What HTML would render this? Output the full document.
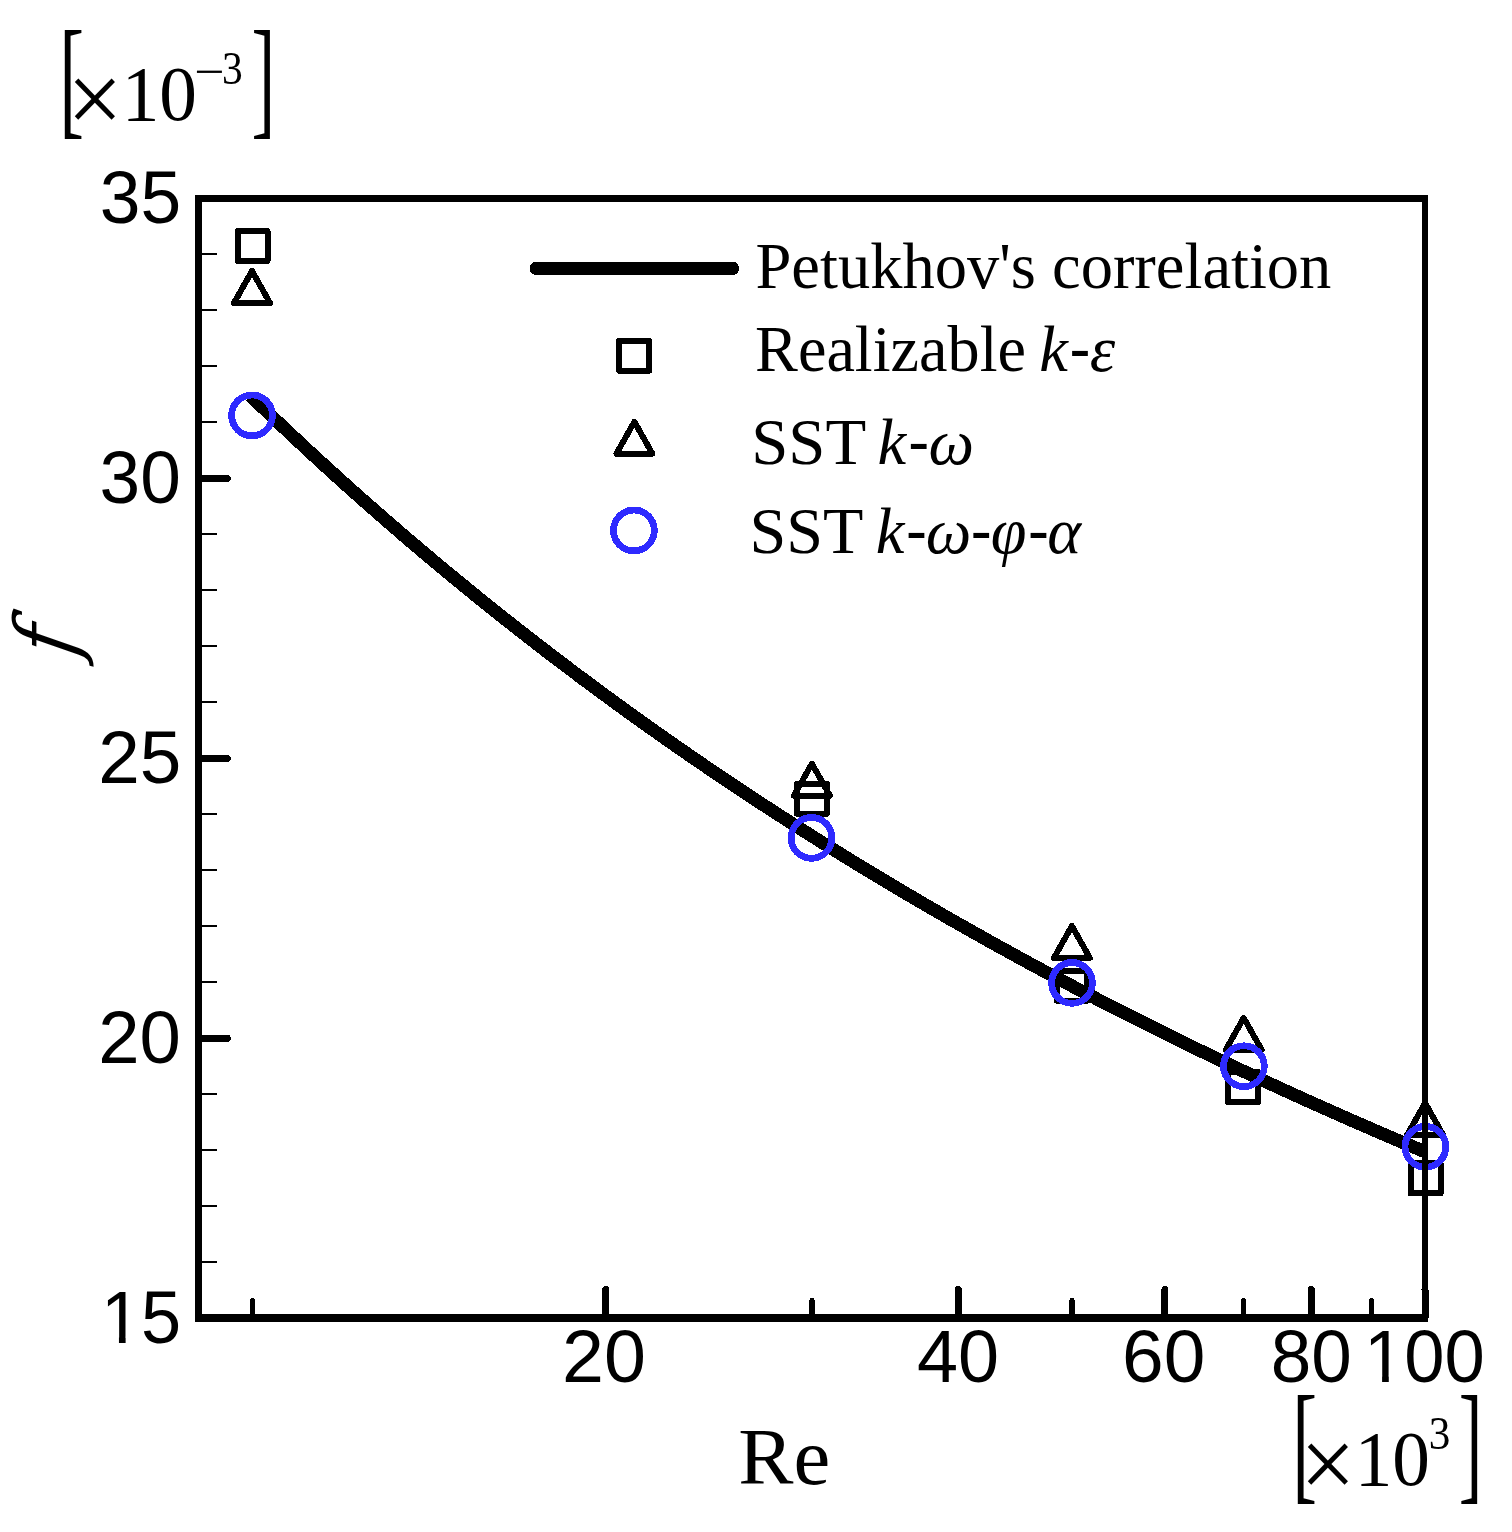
<!DOCTYPE html>
<html lang="en"><head><meta charset="utf-8"><title>Friction factor f versus Re</title>
<style>html,body{margin:0;padding:0;background:#fff}body{width:1512px;height:1532px;overflow:hidden}svg{display:block}text{fill:#000}.sans{font-family:"Liberation Sans", Arial, Helvetica, sans-serif}.serif{font-family:"Liberation Serif", "Times New Roman", Times, serif}.it{font-style:italic}</style></head><body>
<svg width="1512" height="1532" viewBox="0 0 1512 1532">
<rect width="1512" height="1532" fill="#fff"/>
<g id="plot" shape-rendering="crispEdges">
<path d="M250.61 395.88 L257.95 402.98 L265.29 410.04 L272.63 417.06 L279.97 424.03 L287.31 430.96 L294.65 437.85 L301.99 444.70 L309.33 451.51 L316.67 458.28 L324.01 465.01 L331.35 471.69 L338.69 478.34 L346.03 484.95 L353.37 491.52 L360.71 498.05 L368.05 504.55 L375.39 511.00 L382.73 517.42 L390.07 523.80 L397.41 530.14 L404.75 536.45 L412.09 542.72 L419.43 548.95 L426.77 555.15 L434.11 561.31 L441.45 567.43 L448.79 573.52 L456.13 579.58 L463.47 585.60 L470.81 591.59 L478.15 597.54 L485.49 603.46 L492.83 609.34 L500.17 615.19 L507.51 621.01 L514.85 626.80 L522.19 632.55 L529.53 638.27 L536.87 643.96 L544.21 649.62 L551.55 655.24 L558.89 660.84 L566.23 666.40 L573.57 671.93 L580.90 677.43 L588.24 682.90 L595.58 688.34 L602.92 693.75 L610.26 699.13 L617.60 704.48 L624.94 709.80 L632.28 715.10 L639.62 720.36 L646.96 725.59 L654.30 730.80 L661.64 735.98 L668.98 741.13 L676.32 746.25 L683.66 751.34 L691.00 756.41 L698.34 761.45 L705.68 766.46 L713.02 771.44 L720.36 776.40 L727.70 781.33 L735.04 786.24 L742.38 791.12 L749.72 795.97 L757.06 800.80 L764.40 805.60 L771.74 810.37 L779.08 815.13 L786.42 819.85 L793.76 824.55 L801.10 829.23 L808.44 833.88 L815.78 838.51 L823.12 843.11 L830.46 847.69 L837.80 852.24 L845.14 856.77 L852.48 861.28 L859.82 865.77 L867.16 870.23 L874.50 874.67 L881.84 879.08 L889.18 883.47 L896.52 887.84 L903.86 892.19 L911.20 896.52 L918.54 900.82 L925.88 905.10 L933.22 909.36 L940.56 913.60 L947.90 917.81 L955.24 922.01 L962.58 926.18 L969.92 930.33 L977.26 934.46 L984.60 938.57 L991.94 942.66 L999.28 946.73 L1006.62 950.78 L1013.96 954.81 L1021.30 958.82 L1028.64 962.81 L1035.98 966.78 L1043.32 970.72 L1050.66 974.65 L1058.00 978.56 L1065.34 982.45 L1072.68 986.32 L1080.02 990.18 L1087.36 994.01 L1094.70 997.82 L1102.04 1001.62 L1109.38 1005.40 L1116.72 1009.15 L1124.06 1012.89 L1131.40 1016.62 L1138.74 1020.32 L1146.08 1024.01 L1153.42 1027.67 L1160.76 1031.32 L1168.10 1034.96 L1175.44 1038.57 L1182.78 1042.17 L1190.12 1045.75 L1197.46 1049.31 L1204.80 1052.86 L1212.14 1056.39 L1219.48 1059.90 L1226.82 1063.39 L1234.16 1066.87 L1241.50 1070.33 L1248.84 1073.78 L1256.18 1077.21 L1263.52 1080.62 L1270.86 1084.02 L1278.20 1087.40 L1285.54 1090.76 L1292.88 1094.11 L1300.22 1097.44 L1307.56 1100.76 L1314.90 1104.06 L1322.24 1107.35 L1329.58 1110.62 L1336.92 1113.88 L1344.26 1117.12 L1351.60 1120.34 L1358.94 1123.55 L1366.28 1126.75 L1373.62 1129.93 L1380.96 1133.10 L1388.30 1136.25 L1395.64 1139.39 L1402.98 1142.51 L1410.32 1145.62 L1417.66 1148.71 L1425.00 1151.79" fill="none" stroke="#000" stroke-width="13" stroke-linecap="butt" stroke-linejoin="round"/>
<path d="M252.00 271.00 L270.00 302.98 L234.00 302.98 Z" fill="none" stroke="#000" stroke-width="6" stroke-linejoin="round"/>
<path d="M811.90 763.70 L829.90 795.68 L793.90 795.68 Z" fill="none" stroke="#000" stroke-width="6" stroke-linejoin="round"/>
<path d="M1071.90 926.00 L1089.90 957.98 L1053.90 957.98 Z" fill="none" stroke="#000" stroke-width="6" stroke-linejoin="round"/>
<path d="M1243.70 1017.90 L1261.70 1049.88 L1225.70 1049.88 Z" fill="none" stroke="#000" stroke-width="6" stroke-linejoin="round"/>
<path d="M1425.10 1103.00 L1443.10 1134.98 L1407.10 1134.98 Z" fill="none" stroke="#000" stroke-width="6" stroke-linejoin="round"/>
<rect x="237.50" y="231.00" width="30.00" height="30.00" fill="none" stroke="#000" stroke-width="6" stroke-linejoin="round"/>
<rect x="796.90" y="783.60" width="30.00" height="30.00" fill="none" stroke="#000" stroke-width="6" stroke-linejoin="round"/>
<rect x="1057.00" y="970.70" width="30.00" height="30.00" fill="none" stroke="#000" stroke-width="6" stroke-linejoin="round"/>
<rect x="1227.90" y="1072.10" width="30.00" height="30.00" fill="none" stroke="#000" stroke-width="6" stroke-linejoin="round"/>
<rect x="1410.60" y="1163.40" width="30.00" height="30.00" fill="none" stroke="#000" stroke-width="6" stroke-linejoin="round"/>
<circle cx="252.00" cy="415.40" r="20.4" fill="none" stroke="#2e2aff" stroke-width="6.8"/>
<circle cx="811.50" cy="837.90" r="20.4" fill="none" stroke="#2e2aff" stroke-width="6.8"/>
<circle cx="1072.00" cy="982.90" r="20.4" fill="none" stroke="#2e2aff" stroke-width="6.8"/>
<circle cx="1243.90" cy="1066.20" r="20.4" fill="none" stroke="#2e2aff" stroke-width="6.8"/>
<circle cx="1425.40" cy="1146.80" r="20.4" fill="none" stroke="#2e2aff" stroke-width="6.8"/>
<rect x="195.20" y="194.90" width="6.60" height="1126.80" fill="#000"/>
<rect x="1422.00" y="194.90" width="6.00" height="1126.80" fill="#000"/>
<rect x="195.20" y="194.90" width="1232.80" height="6.85" fill="#000"/>
<rect x="195.20" y="1314.20" width="1232.80" height="7.50" fill="#000"/>
<rect x="198.50" y="1260.92" width="18.50" height="2.20" fill="#000"/>
<rect x="198.50" y="1204.94" width="18.50" height="2.20" fill="#000"/>
<rect x="198.50" y="1148.95" width="18.50" height="2.20" fill="#000"/>
<rect x="198.50" y="1092.97" width="18.50" height="2.20" fill="#000"/>
<line x1="198.50" y1="1038.29" x2="227.20" y2="1038.29" stroke="#000" stroke-width="7" stroke-linecap="round"/>
<rect x="198.50" y="981.01" width="18.50" height="2.20" fill="#000"/>
<rect x="198.50" y="925.02" width="18.50" height="2.20" fill="#000"/>
<rect x="198.50" y="869.04" width="18.50" height="2.20" fill="#000"/>
<rect x="198.50" y="813.06" width="18.50" height="2.20" fill="#000"/>
<line x1="198.50" y1="758.38" x2="227.20" y2="758.38" stroke="#000" stroke-width="7" stroke-linecap="round"/>
<rect x="198.50" y="701.09" width="18.50" height="2.20" fill="#000"/>
<rect x="198.50" y="645.11" width="18.50" height="2.20" fill="#000"/>
<rect x="198.50" y="589.13" width="18.50" height="2.20" fill="#000"/>
<rect x="198.50" y="533.14" width="18.50" height="2.20" fill="#000"/>
<line x1="198.50" y1="478.46" x2="227.20" y2="478.46" stroke="#000" stroke-width="7" stroke-linecap="round"/>
<rect x="198.50" y="421.18" width="18.50" height="2.20" fill="#000"/>
<rect x="198.50" y="365.20" width="18.50" height="2.20" fill="#000"/>
<rect x="198.50" y="309.21" width="18.50" height="2.20" fill="#000"/>
<rect x="198.50" y="253.23" width="18.50" height="2.20" fill="#000"/>
<line x1="605.53" y1="1318.00" x2="605.53" y2="1289.50" stroke="#000" stroke-width="7" stroke-linecap="round"/>
<line x1="958.46" y1="1318.00" x2="958.46" y2="1289.50" stroke="#000" stroke-width="7" stroke-linecap="round"/>
<line x1="1164.90" y1="1318.00" x2="1164.90" y2="1289.50" stroke="#000" stroke-width="7" stroke-linecap="round"/>
<line x1="1311.38" y1="1318.00" x2="1311.38" y2="1289.50" stroke="#000" stroke-width="7" stroke-linecap="round"/>
<line x1="1425.00" y1="1318.00" x2="1425.00" y2="1289.50" stroke="#000" stroke-width="7" stroke-linecap="round"/>
<line x1="252.60" y1="1318.00" x2="252.60" y2="1300.60" stroke="#000" stroke-width="5.2" stroke-linecap="round"/>
<line x1="811.98" y1="1318.00" x2="811.98" y2="1300.60" stroke="#000" stroke-width="5.2" stroke-linecap="round"/>
<line x1="1072.07" y1="1318.00" x2="1072.07" y2="1300.60" stroke="#000" stroke-width="5.2" stroke-linecap="round"/>
<line x1="1243.39" y1="1318.00" x2="1243.39" y2="1300.60" stroke="#000" stroke-width="5.2" stroke-linecap="round"/>
<line x1="1371.35" y1="1318.00" x2="1371.35" y2="1300.60" stroke="#000" stroke-width="5.2" stroke-linecap="round"/>
<line x1="536.2" y1="268.4" x2="732.6" y2="268.4" stroke="#000" stroke-width="13.25" stroke-linecap="round"/>
<rect x="619.10" y="340.60" width="30.00" height="30.00" fill="none" stroke="#000" stroke-width="6" stroke-linejoin="round"/>
<path d="M634.40 421.75 L652.40 453.73 L616.40 453.73 Z" fill="none" stroke="#000" stroke-width="6" stroke-linejoin="round"/>
<circle cx="633.95" cy="530.45" r="20.4" fill="none" stroke="#2e2aff" stroke-width="6.8"/>
</g>
<text class="sans" transform="translate(99.77,223.00) scale(0.9798,1.0000)" font-size="74.71">35</text>
<text class="sans" transform="translate(99.58,503.00) scale(0.9776,1.0000)" font-size="74.71">30</text>
<text class="sans" x="98.16" y="783.00" font-size="74.71">25</text>
<text class="sans" transform="translate(98.18,1063.00) scale(0.9950,1.0000)" font-size="74.71">20</text>
<text class="sans" transform="translate(100.97,1343.00) scale(0.9649,1.0000)" font-size="74.71">15</text>
<text class="sans" transform="translate(562.03,1381.80) scale(1.0094,1.0000)" font-size="74.71">20</text>
<text class="sans" transform="translate(916.90,1381.80) scale(0.9879,1.0000)" font-size="74.71">40</text>
<text class="sans" transform="translate(1122.01,1381.80) scale(1.0022,1.0000)" font-size="74.71">60</text>
<text class="sans" transform="translate(1270.72,1381.80) scale(0.9746,1.0000)" font-size="74.71">80</text>
<text class="sans" transform="translate(1364.04,1381.80) scale(0.9686,1.0000)" font-size="74.71">100</text>
<rect x="105.46" y="1336.82" width="13.49" height="7.18" fill="#fff"/>
<rect x="125.61" y="1336.82" width="12.92" height="7.18" fill="#fff"/>
<rect x="1368.55" y="1375.62" width="13.54" height="7.18" fill="#fff"/>
<rect x="1388.78" y="1375.62" width="12.97" height="7.18" fill="#fff"/>
<text font-family="&quot;DejaVu Serif Condensed&quot;, &quot;DejaVu Serif&quot;, serif" font-style="italic" transform="translate(75.78,658.89) rotate(-90) skewX(-10)" font-size="84.85">f</text>
<text class="serif" transform="translate(738.22,1483.79) scale(1.0173,1.0000)" font-size="81.36">Re</text>
<text class="serif" transform="translate(0.00,0.00)"><tspan x="59.31" y="120.91" font-size="131.76" textLength="24.83" lengthAdjust="spacingAndGlyphs">[</tspan><tspan x="67.10" y="133.16" font-size="101.23" textLength="55.70" lengthAdjust="spacingAndGlyphs">×</tspan><tspan x="121.72" y="119.81" font-size="78.52" textLength="75.29" lengthAdjust="spacingAndGlyphs">10</tspan><tspan x="194.31" y="86.90" font-size="46.50" textLength="30.32" lengthAdjust="spacingAndGlyphs">−</tspan><tspan x="221.93" y="84.33" font-size="46.72" textLength="20.73" lengthAdjust="spacingAndGlyphs">3</tspan><tspan x="251.51" y="120.91" font-size="131.76" textLength="23.68" lengthAdjust="spacingAndGlyphs">]</tspan></text>
<text class="serif" transform="translate(1233.00,1365.00)"><tspan x="59.31" y="120.91" font-size="131.76" textLength="24.83" lengthAdjust="spacingAndGlyphs">[</tspan><tspan x="67.10" y="133.16" font-size="101.23" textLength="55.70" lengthAdjust="spacingAndGlyphs">×</tspan><tspan x="121.72" y="119.81" font-size="78.52" textLength="75.29" lengthAdjust="spacingAndGlyphs">10</tspan><tspan x="195.64" y="84.13" font-size="47.16" textLength="21.59" lengthAdjust="spacingAndGlyphs">3</tspan><tspan x="225.81" y="120.91" font-size="131.76" textLength="23.68" lengthAdjust="spacingAndGlyphs">]</tspan></text>
<text class="serif" font-size="64.5"><tspan x="755.50" y="288.00">Petukhov's correlation</tspan></text>
<text class="serif" font-size="64.5"><tspan x="755.07" y="371.25" textLength="270.91" lengthAdjust="spacingAndGlyphs">Realizable</tspan> <tspan class="it" x="1039.20" y="371.25">k</tspan><tspan class="sans" x="1069.20" y="371.25">-</tspan><tspan class="it" x="1089.78" y="371.25">ε</tspan></text>
<text class="serif" font-size="64.5"><tspan x="751.21" y="463.75" textLength="113.74" lengthAdjust="spacingAndGlyphs">SST</tspan> <tspan class="it" x="877.45" y="463.75">k</tspan><tspan class="sans" x="907.95" y="463.75">-</tspan><tspan class="it" x="928.59" y="463.75">ω</tspan></text>
<text class="serif" font-size="64.5"><tspan x="749.50" y="552.50" textLength="112.69" lengthAdjust="spacingAndGlyphs">SST</tspan> <tspan class="it" x="875.70" y="552.50">k</tspan><tspan class="sans" x="905.70" y="552.50">-</tspan><tspan class="it" x="925.84" y="552.50">ω</tspan><tspan class="sans" x="970.45" y="552.50">-</tspan><tspan class="it" x="990.85" y="552.50">φ</tspan><tspan class="sans" x="1027.70" y="552.50">-</tspan><tspan class="it" x="1047.37" y="552.50">α</tspan></text>
</svg></body></html>
